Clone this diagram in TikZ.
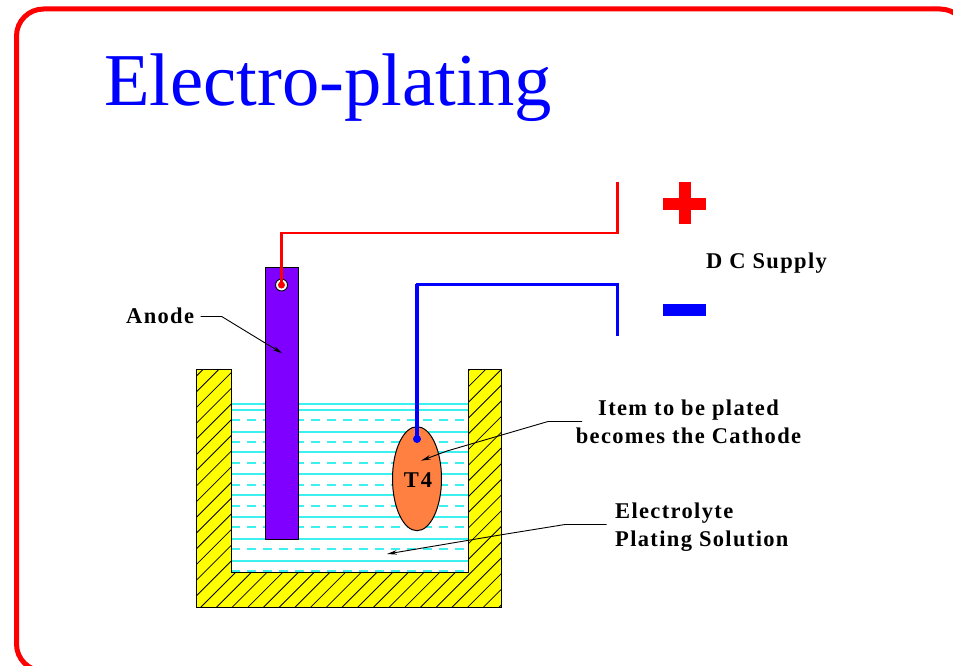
\documentclass[tikz,border=0pt]{standalone}
\usepackage{fontspec}
\setmainfont{Liberation Serif}
\usetikzlibrary{arrows.meta}
\definecolor{hatchyellow}{RGB}{255,255,0}
\definecolor{watercyan}{RGB}{60,240,240}
\definecolor{anodeviolet}{RGB}{128,0,255}
\definecolor{itemorange}{RGB}{255,128,64}
\definecolor{wirered}{RGB}{255,0,0}
\definecolor{wireblue}{RGB}{0,0,255}
\tikzset{
  labeltext/.style={font=\fontsize{22.5}{27.5}\selectfont\bfseries\addfontfeatures{LetterSpace=6}, text=black, inner sep=0pt, align=center},
  leader/.style={draw=black, line width=0.9pt, -{Stealth[length=10pt,width=4.5pt]}},
  solidwater/.style={draw=watercyan, line width=1.4pt},
  dashwater/.style={draw=watercyan, line width=1.4pt, dash pattern=on 9pt off 7pt},
  redwire/.style={draw=wirered, line width=2.7pt, line join=miter},
  bluewire/.style={draw=wireblue, line width=3pt, line join=miter},
}
\begin{document}
\begin{tikzpicture}[x=1pt,y=-1pt]
\useasboundingbox (0,0) rectangle (953,666);
\fill[white] (0,0) rectangle (953,666);
\begin{scope}
\clip (0,0) rectangle (953,666);
\draw[wirered, line width=5pt, rounded corners=27pt] (967,100) -- (967,9) -- (16.5,9) -- (16.5,671) -- (200,671);
\end{scope}
\node[anchor=base west, inner sep=0pt, text=wireblue, font=\fontsize{74.6}{80}\selectfont] (title) at (104,106) {Electro-plating};
% water lines
\foreach \wy in {404,410,432,452,474,495,517,539,561}
  \draw[solidwater] (231,\wy) -- (468,\wy);
\foreach \wy in {420,442,463,485,506,527,549,571}
  \draw[dashwater] (231,\wy) -- (466,\wy);
% tank
\fill[hatchyellow] (196,369) -- (231,369) -- (231,572) -- (468,572) -- (468,369) -- (501.5,369) -- (501.5,607) -- (196,607) -- cycle;
\begin{scope}
\clip (196,369) -- (231,369) -- (231,572) -- (468,572) -- (468,369) -- (501.5,369) -- (501.5,607) -- (196,607) -- cycle;
\foreach \k in {-20,...,40}
  \draw[black, line width=0.8pt] ({188+\k*15.7},620) -- ++(270,-270);
\end{scope}
\draw[black, line width=1pt] (196,369) -- (231,369) -- (231,572) -- (468,572) -- (468,369) -- (501.5,369) -- (501.5,607) -- (196,607) -- cycle;
% anode
\node[draw=black, line width=1pt, fill=anodeviolet, minimum width=33pt, minimum height=272pt, inner sep=0pt] (anode) at (281.5,403) {};
\node[circle, draw=black, fill=white, line width=0.9pt, minimum size=12pt, inner sep=0pt] (term) at (281.5,285) {};
\node[circle, fill=wirered, minimum size=7pt, inner sep=0pt] (termdot) at (281.5,285) {};
% item
\draw[black, line width=1pt, fill=itemorange] (417,478.7) ellipse [x radius=24.5, y radius=52];
\node[font=\fontsize{22.5}{27}\selectfont\bfseries\addfontfeatures{LetterSpace=8}, inner sep=0pt, anchor=base] (t4) at (418,487) {T4};
% wires
\coordinate (redtop) at (617.5,182);
\coordinate (bluebot) at (617,336);
\coordinate (itemdot) at (417,439);
\draw[redwire] (termdot.center) -- (281.5,233) -- (617.5,233) -- (redtop);
\draw[redwire, line width=3.6pt] (termdot.center) -- (281.5,233);
\draw[bluewire] (itemdot) -- (417,284.5) -- (617,284.5) -- (bluebot);
\draw[bluewire, line width=3.8pt] (itemdot) -- (417,284);
\fill[wireblue] (itemdot) circle (4pt);
% signs
\fill[wirered] (679.3,182.3) rectangle (691,224);
\fill[wirered] (663,198.3) rectangle (705.7,210);
\fill[wireblue] (663,304.3) rectangle (705.7,316);
% labels
\node[labeltext, anchor=base west] (dc) at (706,268) {D C Supply};
\node[labeltext, anchor=base west] (anodelab) at (126,323.5) {Anode};
\node[labeltext, anchor=center] (itemlab) at (688.5,422) {Item to be plated\\becomes the Cathode};
\node[labeltext, anchor=west, align=left] (elec) at (615,527) {Electrolyte\\Plating Solution};
% leaders
\coordinate (anodetip) at (282.3,353.3);
\coordinate (itemtip) at (421,460.7);
\coordinate (electip) at (387,554);
\draw[leader] (200.7,316.5) -- (221.7,316.5) -- (263,341.7) -- (anodetip);
\draw[leader] (582,421.5) -- (548,421.5) -- (447,451) -- (itemtip);
\draw[leader] (606.7,524.5) -- (565,524.5) -- (500,535) -- (electip);
\end{tikzpicture}
\end{document}
